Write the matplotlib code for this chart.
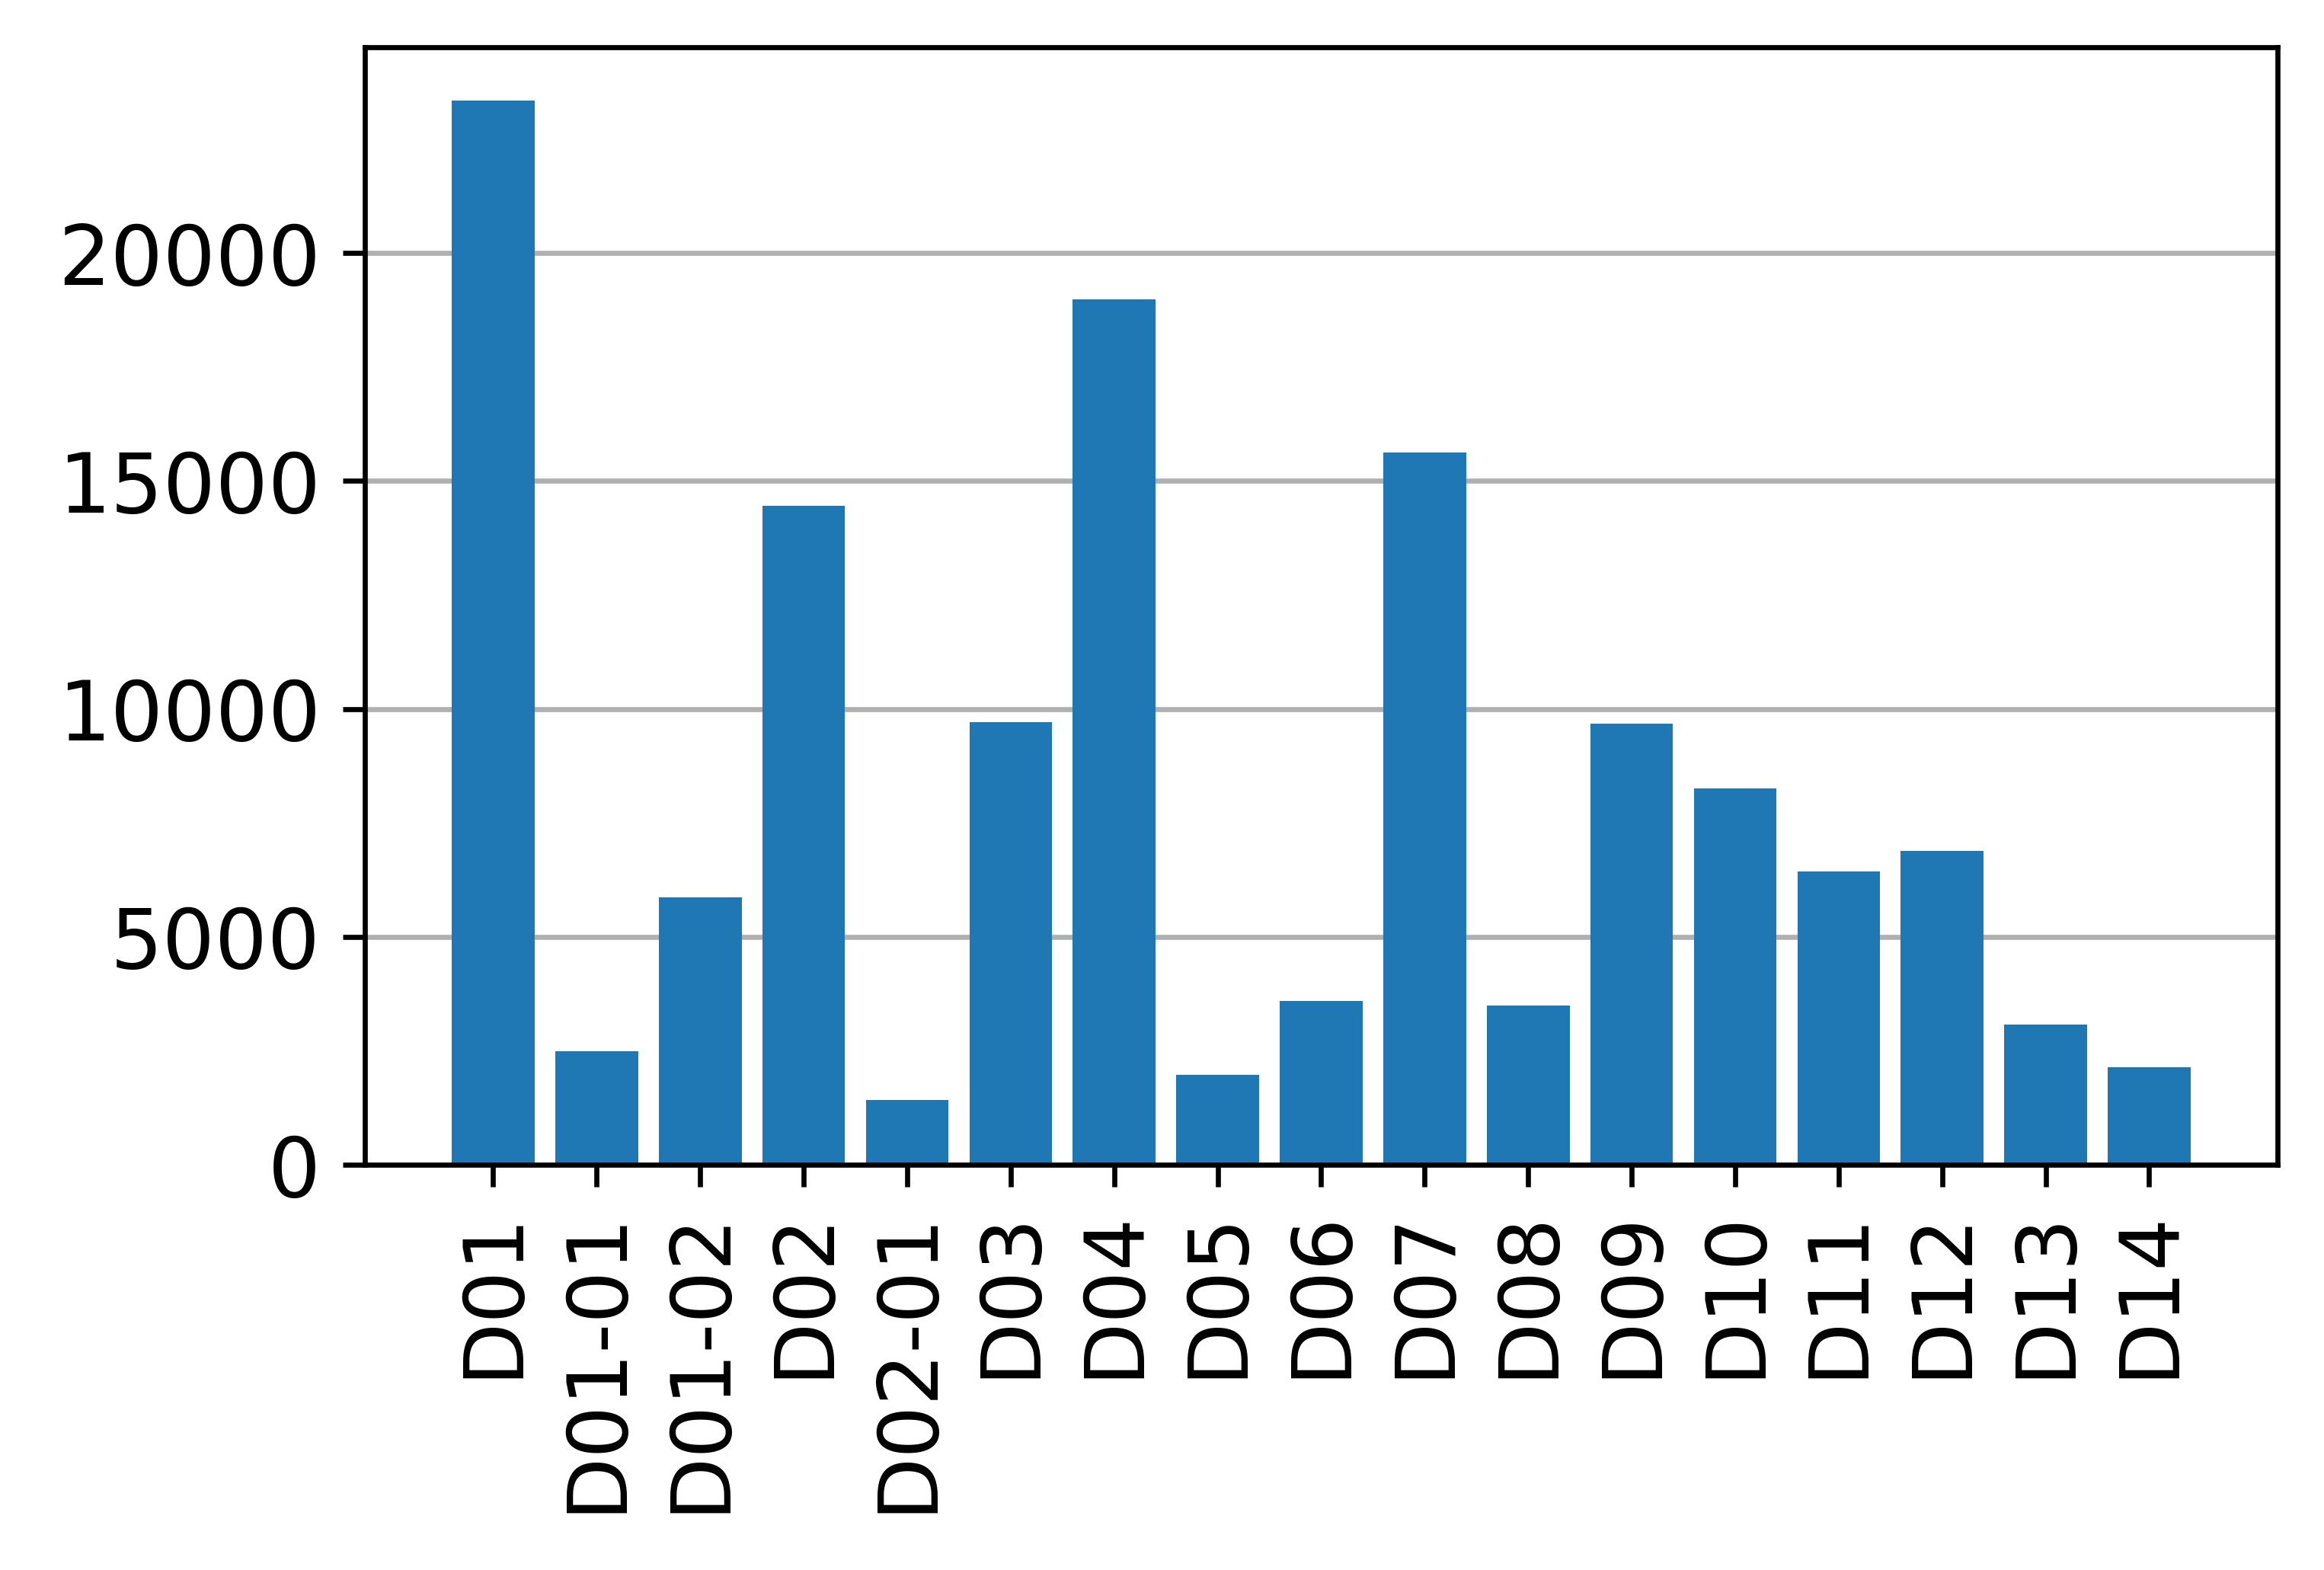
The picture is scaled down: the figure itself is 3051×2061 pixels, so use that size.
import matplotlib
matplotlib.use("Agg")
import matplotlib.pyplot as plt

labels = ["D01", "D01-01", "D01-02", "D02", "D02-01", "D03", "D04", "D05", "D06",
          "D07", "D08", "D09", "D10", "D11", "D12", "D13", "D14"]
values = [23350, 2500, 5870, 14450, 1430, 9710, 18990, 1980, 3600,
          15620, 3500, 9680, 8250, 6430, 6880, 3080, 2140]

fig = plt.figure(figsize=(5.085, 3.435), dpi=600)
ax = fig.add_axes([0.157, 0.258, 0.823, 0.712])
ax.bar(labels, values, color="#1f77b4", zorder=2)
ax.grid(axis="y", color="#b0b0b0", zorder=0)
ax.set_axisbelow(True)
ax.tick_params(labelsize=13)
plt.xticks(rotation=90)
fig.savefig("out.png", dpi=600)
